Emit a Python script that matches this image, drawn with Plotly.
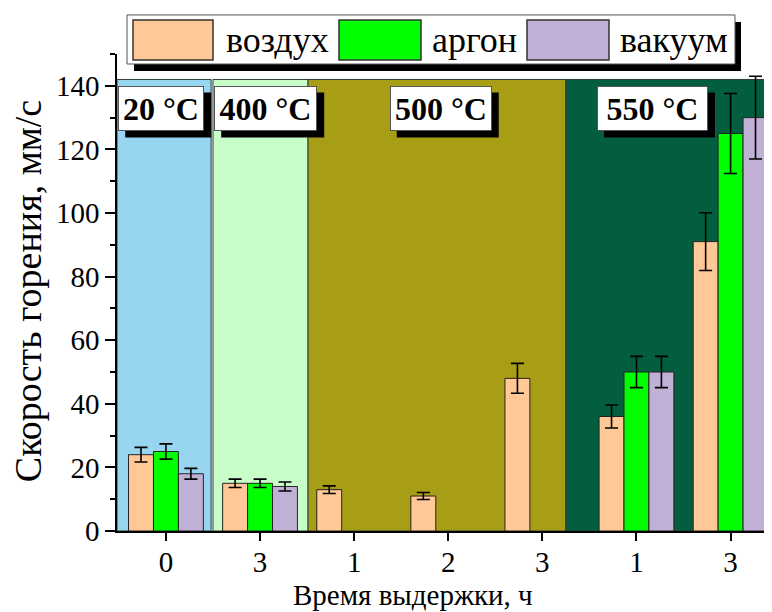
import plotly.graph_objects as go

# ---------------- data ----------------
x_pos = [0, 1, 2, 3, 4, 5, 6]
tick_labels = ["0", "3", "1", "2", "3", "1", "3"]

series_names = ["воздух", "аргон", "вакуум"]
air = [24, 15, 13, 11, 48, 36, 91]
air_err = [2.3, 1.3, 1.2, 1.1, 4.7, 3.6, 9.1]
argon = [25, 15, None, None, None, 50, 125]
argon_err = [2.4, 1.3, 0, 0, 0, 4.9, 12.6]
vacuum = [18, 14, None, None, None, 50, 130]
vacuum_err = [1.7, 1.4, 0, 0, 0, 4.9, 13.0]

series_colors = ["#FFC896", "#00FF00", "#C0B0D6"]

band_labels = ["20 °C", "400 °C", "500 °C", "550 °C"]
band_x0 = [-0.52, 0.50, 1.51, 4.25]
band_x1 = [0.48, 1.51, 4.25, 6.44]
band_top = 142
band_colors = ["#97D5F0", "#C8FFC8", "#A89E16", "#025E3E"]
band_label_x = [-0.05, 1.06, 2.92, 5.17]
band_label_y = 133
band_label_w = [78, 95, 94, 103]

FONT = "Liberation Serif, Times New Roman, serif"

# page body has an 8px margin -> figure coords = page coords - 8
OFF = 8

# ---------------- figure ----------------
fig = go.Figure()
for name, vals, errs, col in zip(series_names, [air, argon, vacuum],
                                 [air_err, argon_err, vacuum_err], series_colors):
    fig.add_trace(go.Bar(
        x=x_pos, y=vals, name=name,
        marker=dict(color=col, line=dict(color="#222222", width=1)),
        error_y=dict(type="data", array=errs, visible=True,
                     color="black", thickness=1.6, width=6.5),
        showlegend=False,
    ))

shapes = []
for x0, x1, c in zip(band_x0, band_x1, band_colors):
    shapes.append(dict(type="rect", xref="x", yref="y", x0=x0, x1=x1, y0=0, y1=band_top,
                       fillcolor=c, line=dict(color="#2a3a3a", width=1), layer="below"))

# custom legend (paper coordinates, computed from page pixels)
L, R, T, B = 117, 772, 54, 530.7
W, H = R - L, B - T
def px(xp):
    return (xp - L) / W
def py(yp):
    return (B - yp) / H

shapes.append(dict(type="rect", xref="paper", yref="paper",
                   x0=px(134), x1=px(741), y0=py(71), y1=py(22),
                   fillcolor="black", line=dict(width=0)))
shapes.append(dict(type="rect", xref="paper", yref="paper",
                   x0=px(127), x1=px(735), y0=py(64), y1=py(15),
                   fillcolor="white", line=dict(color="#555555", width=1)))
swatch_x = [(133, 213), (339, 421), (527, 609)]
text_x = [224, 430, 618]
annotations = []
for (sx0, sx1), tx, name, col in zip(swatch_x, text_x, series_names, series_colors):
    shapes.append(dict(type="rect", xref="paper", yref="paper",
                       x0=px(sx0), x1=px(sx1), y0=py(60), y1=py(20),
                       fillcolor=col, line=dict(color="#333333", width=1.5)))
    annotations.append(dict(xref="paper", yref="paper", x=px(tx), y=py(40),
                            xanchor="left", yanchor="middle", showarrow=False,
                            text=name, font=dict(family=FONT, size=36, color="black")))

# band labels with drop shadow
LH = 37
for lab, lx, lw in zip(band_labels, band_label_x, band_label_w):
    bw = lw + 8
    bh = LH + 8
    shapes.append(dict(type="rect", xref="x", yref="y", xsizemode="pixel", ysizemode="pixel",
                       xanchor=lx, yanchor=band_label_y,
                       x0=-bw / 2 + 7, x1=bw / 2 + 7, y0=-bh / 2 - 7, y1=bh / 2 - 7,
                       fillcolor="black", line=dict(width=0)))
    annotations.append(dict(x=lx, y=band_label_y, xref="x", yref="y", text="<b>" + lab + "</b>",
                            showarrow=False, width=lw, height=LH,
                            font=dict(family=FONT, size=32, color="black"),
                            bgcolor="white", bordercolor="#555555", borderwidth=1, borderpad=3))

# axis titles
annotations.append(dict(xref="paper", yref="paper", x=px(413), y=py(595),
                        xanchor="center", yanchor="middle", showarrow=False,
                        text="Время выдержки, ч", font=dict(family=FONT, size=29, color="black")))
annotations.append(dict(xref="paper", yref="paper", x=px(28), y=py(291),
                        xanchor="center", yanchor="middle", showarrow=False, textangle=-90,
                        text="Скорость горения, мм/с", font=dict(family=FONT, size=38, color="black")))

fig.update_layout(
    width=772, height=612,
    margin=dict(l=L - OFF, r=OFF, t=T - OFF, b=612 - (B - OFF), pad=0),
    paper_bgcolor="white", plot_bgcolor="white",
    barmode="group", bargap=0.205, bargroupgap=0,
    shapes=shapes, annotations=annotations,
    font=dict(family=FONT, size=29, color="black"),
    xaxis=dict(range=[-0.52, 6.44], tickmode="array", tickvals=x_pos, ticktext=tick_labels,
               showgrid=False, zeroline=False, showline=True, linecolor="black", linewidth=1.5,
               ticks="outside", ticklen=8, tickwidth=1.5, tickcolor="black",
               ticklabelstandoff=-4,
               tickfont=dict(family=FONT, size=29, color="black")),
    yaxis=dict(range=[0, 150], tickmode="linear", tick0=0, dtick=20,
               showgrid=False, zeroline=False, showline=True, linecolor="black", linewidth=1.5,
               ticks="outside", ticklen=10, tickwidth=1.5, tickcolor="black",
               tickfont=dict(family=FONT, size=29, color="black"),
               minor=dict(dtick=10, ticks="outside", ticklen=5, tickwidth=1.5, tickcolor="black",
                          showgrid=False)),
)

fig.write_html("out.html")
